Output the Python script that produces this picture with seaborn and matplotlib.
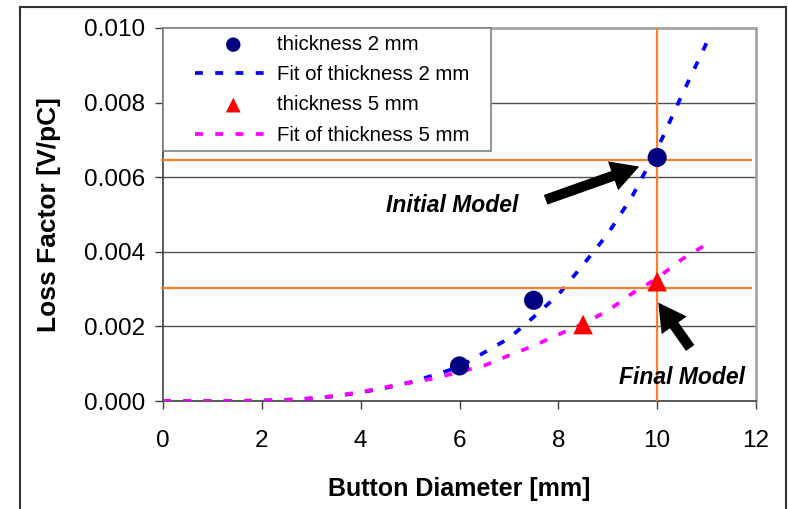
import matplotlib
matplotlib.use("Agg")
import matplotlib.pyplot as plt
import seaborn as sns
import pandas as pd
from matplotlib.patches import Rectangle

# ---- data ----
x_t2 = [6.0, 7.5, 10.0]
y_t2 = [0.00094, 0.0027, 0.00653]
x_t5 = [8.5, 10.0]
y_t5 = [0.00205, 0.0032]

fit_x = [0, 0.5, 1, 1.5, 2, 2.5, 3, 3.5, 4, 4.5, 5, 5.5, 6, 6.5, 7, 7.5, 8,
         8.5, 9, 9.5, 10, 10.5, 11]
fit_t2 = [0, 0, 0, 0.000003, 0.00001, 0.00003, 0.00007, 0.00013, 0.00023,
          0.00035, 0.0005, 0.0007, 0.00092, 0.0013, 0.00168, 0.00225, 0.00285,
          0.00365, 0.00448, 0.0055, 0.00675, 0.0082, 0.0096]
fit_t5 = [0, 0, 0, 0.000003, 0.00001, 0.00003, 0.00007, 0.00014, 0.00024,
          0.00037, 0.00049, 0.00061, 0.00078, 0.00095, 0.00122, 0.00148,
          0.00178, 0.00207, 0.00242, 0.00289, 0.00329, 0.0038, 0.0042]

ref_h = [0.00645, 0.00302]
ref_v = [10.0]

x_ticks = [0, 2, 4, 6, 8, 10, 12]
y_ticks = [0.000, 0.002, 0.004, 0.006, 0.008, 0.010]

lab_s2 = "thickness 2 mm"
lab_f2 = "Fit of thickness 2 mm"
lab_s5 = "thickness 5 mm"
lab_f5 = "Fit of thickness 5 mm"

sns.set_style("white")
plt.rcParams["font.family"] = ["Liberation Sans", "DejaVu Sans"]
plt.rcParams["text.color"] = "black"
plt.rcParams["axes.labelcolor"] = "black"
plt.rcParams["xtick.labelcolor"] = "black"
plt.rcParams["ytick.labelcolor"] = "black"

fig = plt.figure(figsize=(7.88, 5.09), dpi=100)
ax = fig.add_axes([163 / 788, 108 / 509, (756 - 163) / 788, (401 - 28) / 509])

df_fit2 = pd.DataFrame({"x": fit_x, "y": fit_t2})
df_fit5 = pd.DataFrame({"x": fit_x, "y": fit_t5})
df_s2 = pd.DataFrame({"x": x_t2, "y": y_t2})
df_s5 = pd.DataFrame({"x": x_t5, "y": y_t5})

lw = 2.7
dash = (2.1, 3.3)
sns.lineplot(data=df_fit2, x="x", y="y", ax=ax, color="#0000FF", lw=lw,
             label=lab_f2, zorder=3)
sns.lineplot(data=df_fit5, x="x", y="y", ax=ax, color="#FF00FF", lw=lw,
             label=lab_f5, zorder=3.1)
for ln in ax.get_lines():
    ln.set_dashes(dash)
    ln.set_dash_capstyle("butt")

# reference orange lines
ax.hlines(ref_h, -0.05, 11.92, colors="#FF7F27", lw=1.6, zorder=4, clip_on=False)
ax.vlines(ref_v, 0, 0.01, colors="#FF7F27", lw=1.6, zorder=4)

sns.scatterplot(data=df_s2, x="x", y="y", ax=ax, color="#000080", marker="o",
                s=190, edgecolor="none", label=lab_s2, zorder=5)
sns.scatterplot(data=df_s5, x="x", y="y", ax=ax, color="#FF0000", marker="^",
                s=200, edgecolor="none", label=lab_s5, zorder=5)

ax.set_xlim(0, 12)
ax.set_ylim(0, 0.010)
ax.set_xticks(x_ticks)
ax.set_yticks(y_ticks)
ax.set_yticklabels([f"{v:.3f}" for v in y_ticks])
ax.tick_params(axis="both", labelsize=17.5, direction="out", length=6,
               width=1, color="#404040", labelcolor="black", left=True, bottom=True)
ax.tick_params(axis="y", pad=7)
ax.tick_params(axis="x", pad=15)

ax.yaxis.grid(True, color="#505050", lw=1)
ax.xaxis.grid(False)
ax.set_axisbelow(True)
for s in ["left", "bottom"]:
    ax.spines[s].set_color("#404040")
    ax.spines[s].set_linewidth(1.2)
for s in ["top", "right"]:
    ax.spines[s].set_color("#A6A6A6")
    ax.spines[s].set_linewidth(2)

ax.set_xlabel("Button Diameter [mm]", fontsize=18, fontweight="bold", color="black")
ax.set_ylabel("Loss Factor [V/pC]", fontsize=19, fontweight="bold", color="black")
ax.xaxis.set_label_coords(0.5, -0.205)
ax.yaxis.set_label_coords(-0.172, 0.5)

# legend box + legend in order
ax.add_patch(Rectangle((0, (401 - 151) / 373), (491 - 163) / 593,
                       1 - (401 - 151) / 373, transform=ax.transAxes,
                       facecolor="white", edgecolor="#808080", lw=1.2,
                       zorder=8, clip_on=False))
h, l = ax.get_legend_handles_labels()
order = [lab_s2, lab_f2, lab_s5, lab_f5]
hh = [h[l.index(o)] for o in order]
leg = ax.legend(hh, order, loc="upper left",
                bbox_to_anchor=((195 - 163) / 593, (401 - 35) / 373),
                borderaxespad=0, borderpad=0, fontsize=14.7, frameon=False,
                handlelength=3.75, handletextpad=0.25, labelspacing=0.55,
                markerscale=0.75, labelcolor="black")
leg.set_zorder(9)
for lh in leg.get_lines():
    lh.set_dashes(dash)

# annotations
arrow_kw = dict(arrowstyle="simple,head_length=1.0,head_width=1.1,tail_width=0.37",
                color="black", lw=0, mutation_scale=20)
ax.annotate("", xy=(9.69, 0.00631), xytext=(7.69, 0.00537),
            arrowprops=arrow_kw, zorder=6)
ax.annotate("", xy=(9.99, 0.0027), xytext=(10.70, 0.00136),
            arrowprops=arrow_kw, zorder=6)
ax.text(5.85, 0.00524, "Initial Model", fontsize=16.5, fontweight="bold",
        fontstyle="italic", ha="center", va="center", color="black")
ax.text(10.5, 0.00064, "Final Model", fontsize=16.5, fontweight="bold",
        fontstyle="italic", ha="center", va="center", zorder=7, color="black")

# outer frame
fig.patches.append(Rectangle((20 / 788, -0.05), (786 - 20) / 788, 1.05 - 7 / 509,
                             transform=fig.transFigure, fill=False,
                             edgecolor="#333333", lw=1.5))

fig.savefig("out.png", dpi=100)
